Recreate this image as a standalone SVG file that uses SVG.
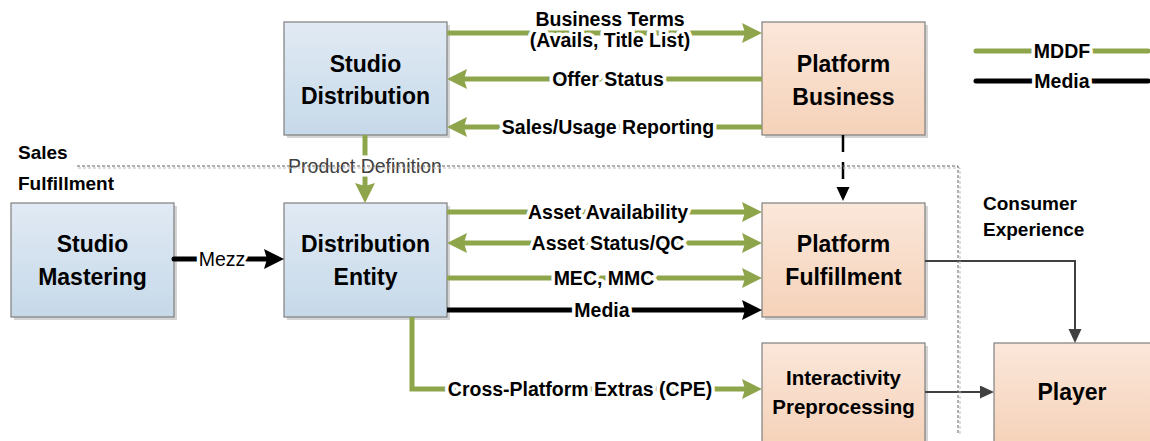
<svg xmlns="http://www.w3.org/2000/svg" width="1150" height="441" viewBox="0 0 1150 441">
  <defs>
    <linearGradient id="gBlue" x1="0" y1="0" x2="0" y2="1">
      <stop offset="0" stop-color="#e1eaf4"/>
      <stop offset="1" stop-color="#c6d9e9"/>
    </linearGradient>
    <linearGradient id="gPeach" x1="0" y1="0" x2="0" y2="1">
      <stop offset="0" stop-color="#fbe7da"/>
      <stop offset="1" stop-color="#f5d2b9"/>
    </linearGradient>
    <marker id="arrGreen" markerUnits="userSpaceOnUse" markerWidth="21" markerHeight="21" refX="10" refY="10" orient="auto-start-reverse" viewBox="0 0 21 21">
      <path d="M0,0 L20,10 L0,20 L3,10 Z" fill="#8ea54c"/>
    </marker>
    <marker id="arrBlack" markerUnits="userSpaceOnUse" markerWidth="21" markerHeight="21" refX="10" refY="10" orient="auto" viewBox="0 0 21 21">
      <path d="M0,0 L20,10 L0,20 L3,10 Z" fill="#000"/>
    </marker>
    <marker id="arrSmall" markerUnits="userSpaceOnUse" markerWidth="15" markerHeight="14" refX="10" refY="6.5" orient="auto" viewBox="0 0 15 14">
      <path d="M0,0 L14,6.5 L0,13 Z" fill="#000"/>
    </marker>
    <marker id="arrGray" markerUnits="userSpaceOnUse" markerWidth="15" markerHeight="14" refX="10" refY="6.5" orient="auto" viewBox="0 0 15 14">
      <path d="M0,0 L14,6.5 L0,13 Z" fill="#404040"/>
    </marker>
  </defs>
  <style>
    .shadow { fill: #d4d4d4; }
    .blue { fill: url(#gBlue); stroke: #7f7f7f; stroke-width: 1.2; }
    .peach { fill: url(#gPeach); stroke: #7f7f7f; stroke-width: 1.2; }
    .node { font-family: "Liberation Sans", Arial, sans-serif; font-weight: bold; font-size: 23px; fill: #000; text-anchor: middle; }
    .small { font-size: 20.5px; }
    .mddf { fill: none; stroke: #8ea54c; stroke-width: 5; }
    .media { fill: none; stroke: #000; stroke-width: 5; }
    .flow { fill: none; stroke: #404040; stroke-width: 2; }
    .lbl { font-family: "Liberation Sans", Arial, sans-serif; font-weight: bold; font-size: 19.5px; fill: #000; text-anchor: middle; stroke: #fff; stroke-width: 7; paint-order: stroke; stroke-linejoin: round; }
    .plain { font-weight: normal; }
    .zone { font-family: "Liberation Sans", Arial, sans-serif; font-weight: bold; font-size: 19px; fill: #000; }
    .bound { fill: none; stroke: #606060; stroke-width: 1; stroke-dasharray: 3 2; }
    .bound2 { fill: none; stroke: #bdbdbd; stroke-width: 1; stroke-dasharray: 3 2; }
  </style>

  <!-- Nodes -->
  <g id="studio-distribution">
    <rect class="shadow" x="287" y="25" width="163" height="113"/>
    <rect class="blue" x="284" y="22" width="163" height="113"/>
    <text class="node" x="365.5" y="72">Studio</text>
    <text class="node" x="365.5" y="104">Distribution</text>
  </g>
  <g id="platform-business">
    <rect class="shadow" x="765" y="25" width="163" height="113"/>
    <rect class="peach" x="762" y="22" width="163" height="113"/>
    <text class="node" x="843.5" y="72">Platform</text>
    <text class="node" x="843.5" y="105">Business</text>
  </g>
  <g id="studio-mastering">
    <rect class="shadow" x="14" y="206" width="163" height="114"/>
    <rect class="blue" x="11" y="203" width="163" height="114"/>
    <text class="node" x="92.5" y="252">Studio</text>
    <text class="node" x="92.5" y="285">Mastering</text>
  </g>
  <g id="distribution-entity">
    <rect class="shadow" x="287" y="206" width="163" height="114"/>
    <rect class="blue" x="284" y="203" width="163" height="114"/>
    <text class="node" x="365.5" y="252">Distribution</text>
    <text class="node" x="365.5" y="285">Entity</text>
  </g>
  <g id="platform-fulfillment">
    <rect class="shadow" x="765" y="206" width="163" height="114"/>
    <rect class="peach" x="762" y="203" width="163" height="114"/>
    <text class="node" x="843.5" y="252">Platform</text>
    <text class="node" x="843.5" y="285">Fulfillment</text>
  </g>
  <g id="interactivity-preprocessing">
    <rect class="shadow" x="765" y="346" width="163" height="100"/>
    <rect class="peach" x="762" y="343" width="163" height="102"/>
    <text class="node small" x="843.5" y="385">Interactivity</text>
    <text class="node small" x="843.5" y="414">Preprocessing</text>
  </g>
  <g id="player">
    <rect class="peach" x="994" y="343" width="158" height="102"/>
    <text class="node" x="1072" y="400">Player</text>
  </g>

  <!-- Zone labels -->
  <g id="zones">
    <text class="zone" x="18" y="159">Sales</text>
    <text class="zone" x="18" y="190">Fulfillment</text>
    <text class="zone" x="983" y="210">Consumer</text>
    <text class="zone" x="983" y="236">Experience</text>
  </g>

  <!-- Connectors -->
  <g id="connectors">
    <!-- Studio Distribution <-> Platform Business -->
    <path class="mddf" d="M447,33 H752" marker-end="url(#arrGreen)"/>
    <path class="mddf" d="M762,79 H457" marker-end="url(#arrGreen)"/>
    <path class="mddf" d="M762,127 H457" marker-end="url(#arrGreen)"/>
    <text class="lbl" x="610" y="26">Business Terms</text>
    <text class="lbl" x="610" y="47">(Avails, Title List)</text>
    <text class="lbl" x="608" y="86">Offer Status</text>
    <text class="lbl" x="608" y="134">Sales/Usage Reporting</text>

    <!-- Studio Distribution -> Distribution Entity -->
    <path class="mddf" d="M365,135 V193" marker-end="url(#arrGreen)"/>
    <text class="lbl plain" x="365" y="173" style="fill:#404040">Product Definition</text>

    <!-- Platform Business -> Platform Fulfillment -->
    <path d="M843,135 V197" fill="none" stroke="#000" stroke-width="2.5" stroke-dasharray="17 10" marker-end="url(#arrSmall)"/>

    <!-- Studio Mastering -> Distribution Entity -->
    <path class="media" d="M174,259 H274" stroke-linecap="round" marker-end="url(#arrBlack)"/>
    <text class="lbl plain" x="222" y="266">Mezz</text>

    <!-- Distribution Entity <-> Platform Fulfillment -->
    <path class="mddf" d="M447,212 H752" marker-end="url(#arrGreen)"/>
    <path class="mddf" d="M457,243 H752" marker-start="url(#arrGreen)" marker-end="url(#arrGreen)"/>
    <path class="mddf" d="M447,278 H752" marker-end="url(#arrGreen)"/>
    <path class="media" d="M447,310 H752" marker-end="url(#arrBlack)"/>
    <text class="lbl" x="608" y="219">Asset Availability</text>
    <text class="lbl" x="608" y="250">Asset Status/QC</text>
    <text class="lbl" x="604" y="285">MEC, MMC</text>
    <text class="lbl" x="602" y="317">Media</text>

    <!-- Distribution Entity -> Interactivity Preprocessing -->
    <path class="mddf" d="M412,317 V389 H752" marker-end="url(#arrGreen)"/>
    <text class="lbl" x="580" y="396">Cross-Platform Extras (CPE)</text>

    <!-- Consumer experience flows -->
    <path class="flow" d="M925,261 H1075 V339" marker-end="url(#arrGray)"/>
    <path class="flow" d="M925,392 H990" marker-end="url(#arrGray)"/>
  </g>

  <!-- Zone boundary -->
  <g id="boundary">
    <path class="bound2" d="M78,168 H960 V435"/>
    <path class="bound" d="M77,166 H958 V433"/>
  </g>

  <!-- Legend -->
  <g id="legend">
    <path class="mddf" d="M976,51 H1148" stroke-linecap="round"/>
    <path class="media" d="M976,81 H1148" stroke-linecap="round"/>
    <text class="lbl" x="1062" y="58">MDDF</text>
    <text class="lbl" x="1062" y="88">Media</text>
  </g>
</svg>
